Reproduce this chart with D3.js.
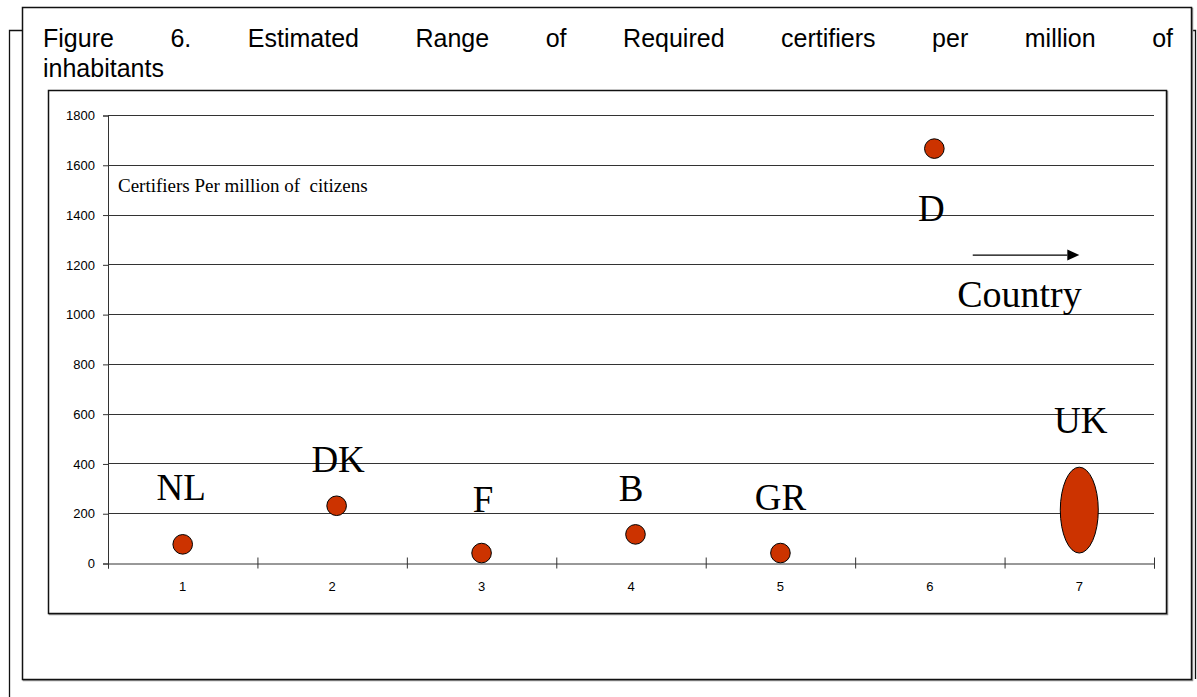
<!DOCTYPE html>
<html>
<head>
<meta charset="utf-8">
<script src="https://cdn.jsdelivr.net/npm/d3@7"></script>
<style>
  html, body { margin: 0; padding: 0; background: #fff; }
  svg { display: block; }
</style>
</head>
<body>
<svg id="chart" width="1197" height="697"></svg>
<script>
// ---- data ----
const categories = ["1", "2", "3", "4", "5", "6", "7"];
const countries = ["NL", "DK", "F", "B", "GR", "D", "UK"];
const xValues = [1, 2.03, 3, 4.03, 5, 6.03, 7];
const values = [75, 230, 40, 115, 40, 1665, null];
const ukRange = [40, 385];
const yTicks = [0, 200, 400, 600, 800, 1000, 1200, 1400, 1600, 1800];
const labelX = [0.99, 2.04, 3.01, 4.0, 5.0, 6.01, 7.01];
const labelY = [253, 366, 205, 249, 213, 1375, 522];
const titleLine1 = ["Figure", "6.", "Estimated", "Range", "of", "Required", "certifiers", "per", "million", "of"];
const titleLine2 = "inhabitants";
const yAxisNote = "Certifiers Per million of  citizens";
const xAxisNote = "Country";

const svg = d3.select("#chart");
const SANS = "'Liberation Sans', Arial, sans-serif";
const SERIF = "'Liberation Serif', 'Times New Roman', serif";

// ---- frames ----
svg.append("path")
  .attr("d", "M9.5,697 V30.5 H1195.5 V679")
  .attr("fill", "none").attr("stroke", "#111").attr("stroke-width", 1.3);
svg.append("rect").attr("x", 23.5).attr("y", 8.5).attr("width", 1169).attr("height", 672)
  .attr("fill", "none").attr("stroke", "#999").attr("stroke-width", 1.5);
svg.append("rect").attr("x", 22.5).attr("y", 7.5).attr("width", 1169).attr("height", 672)
  .attr("fill", "#fff").attr("stroke", "#111").attr("stroke-width", 1.5);

// ---- title (justified first line) ----
const tLeft = 43, tRight = 1173;
const tg = svg.append("g");
const words = tg.selectAll("text.w").data(titleLine1).join("text")
  .attr("class", "w")
  .attr("y", 47)
  .attr("font-family", SANS).attr("font-size", 25).attr("fill", "#000")
  .text(d => d);
const widths = [];
words.each(function () { widths.push(this.getComputedTextLength()); });
const totalW = d3.sum(widths);
const gap = (tRight - tLeft - totalW) / (titleLine1.length - 1);
let cx = tLeft;
words.attr("x", (d, i) => { const v = cx; cx += widths[i] + gap; return v; });
tg.append("text").attr("x", tLeft).attr("y", 77)
  .attr("font-family", SANS).attr("font-size", 25).attr("fill", "#000")
  .text(titleLine2);

// ---- inner chart box ----
svg.append("rect").attr("x", 49.5).attr("y", 91.5).attr("width", 1118).attr("height", 523)
  .attr("fill", "none").attr("stroke", "#999").attr("stroke-width", 1.5);
svg.append("rect").attr("x", 48.5).attr("y", 90.5).attr("width", 1118).attr("height", 523)
  .attr("fill", "#fff").attr("stroke", "#111").attr("stroke-width", 1.5);

// ---- scales ----
const x = d3.scaleLinear().domain([0.5, 7.5]).range([108, 1154]);
const y = d3.scaleLinear().domain([0, 1800]).range([563, 115]);

// gridlines
svg.append("g").selectAll("line").data(yTicks.filter(d => d > 0)).join("line")
  .attr("x1", x(0.5)).attr("x2", x(7.5))
  .attr("y1", d => Math.round(y(d)) + 0.5).attr("y2", d => Math.round(y(d)) + 0.5)
  .attr("stroke", "#333").attr("stroke-width", 1);

// y axis
const yAxis = svg.append("g").attr("transform", `translate(${x(0.5)},0.5)`)
  .call(d3.axisLeft(y).tickValues(yTicks).tickSize(5).tickPadding(8).tickFormat(d3.format("d")));
yAxis.select(".domain").attr("stroke", "#333");
yAxis.selectAll(".tick line").attr("stroke", "#333");
yAxis.selectAll(".tick text").attr("font-family", SANS).attr("font-size", 13).attr("fill", "#000");

// x axis
const bounds = d3.range(0.5, 8, 1);
const xAxis = svg.append("g").attr("transform", `translate(0,${Math.round(y(0)) + 0.5})`)
  .call(d3.axisBottom(x).tickValues(bounds).tickSize(5).tickFormat(""));
xAxis.select(".domain").attr("stroke", "#333");
xAxis.selectAll(".tick line").attr("y1", -6).attr("y2", 5).attr("stroke", "#333");
svg.append("g").selectAll("text").data(categories).join("text")
  .attr("x", (d, i) => x(i + 1)).attr("y", 591)
  .attr("text-anchor", "middle")
  .attr("font-family", SANS).attr("font-size", 13).attr("fill", "#000")
  .text(d => d);

// ---- marks ----
const pts = countries.map((c, i) => ({ c, x: xValues[i], v: values[i] })).filter(d => d.v !== null);
svg.append("g").selectAll("circle").data(pts).join("circle")
  .attr("cx", d => x(d.x)).attr("cy", d => y(d.v)).attr("r", 9.8)
  .attr("fill", "#cc3300").attr("stroke", "#000").attr("stroke-width", 1);

svg.append("ellipse")
  .attr("cx", x(xValues[6])).attr("cy", y((ukRange[0] + ukRange[1]) / 2))
  .attr("rx", 19).attr("ry", (y(ukRange[0]) - y(ukRange[1])) / 2)
  .attr("fill", "#cc3300").attr("stroke", "#000").attr("stroke-width", 1);

// country labels
svg.append("g").selectAll("text").data(countries).join("text")
  .attr("x", (d, i) => x(labelX[i])).attr("y", (d, i) => y(labelY[i]))
  .attr("text-anchor", "middle")
  .attr("font-family", SERIF).attr("font-size", 37).attr("fill", "#000")
  .text(d => d);

// annotations
svg.append("text").attr("x", x(0.567)).attr("y", y(1492))
  .attr("font-family", SERIF).attr("font-size", 19).attr("fill", "#000")
  .attr("xml:space", "preserve").style("white-space", "pre")
  .text(yAxisNote);

svg.append("line")
  .attr("x1", x(6.287)).attr("x2", x(6.92))
  .attr("y1", y(1237)).attr("y2", y(1237))
  .attr("stroke", "#000").attr("stroke-width", 1.3);
svg.append("path")
  .attr("d", `M${x(6.92)},${y(1237) - 5.5} L${x(7.0)},${y(1237)} L${x(6.92)},${y(1237) + 5.5} Z`)
  .attr("fill", "#000");

svg.append("text").attr("x", x(6.6)).attr("y", y(1030))
  .attr("text-anchor", "middle")
  .attr("font-family", SERIF).attr("font-size", 38).attr("fill", "#000")
  .text(xAxisNote);
</script>
</body>
</html>
